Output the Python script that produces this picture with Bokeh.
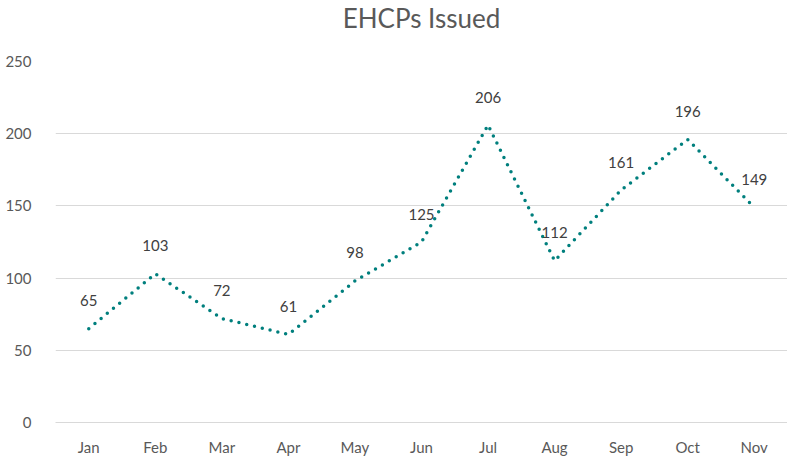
from bokeh.plotting import figure
from bokeh.models import ColumnDataSource, Range1d, FixedTicker, Title
from bokeh.core.properties import value
from bokeh.embed import file_html
from bokeh.resources import INLINE

months = ["Jan", "Feb", "Mar", "Apr", "May", "Jun", "Jul", "Aug", "Sep", "Oct", "Nov"]
ehcps = [65, 103, 72, 61, 98, 125, 206, 112, 161, 196, 149]
labels = [str(v) for v in ehcps]
y_ticks = [0, 50, 100, 150, 200, 250]
title_text = "EHCPs Issued"

src = ColumnDataSource(dict(m=months, v=ehcps, lab=labels))

FONT = "Lato"

p = figure(width=787, height=458, x_range=months, y_range=Range1d(0, 250),
           output_backend="svg", toolbar_location=None,
           min_border_left=55, min_border_right=0, min_border_top=0, min_border_bottom=36)
p.outline_line_color = None
p.background_fill_color = "white"
p.border_fill_color = "white"

p.title.text = title_text
p.title.align = "center"
p.title.vertical_align = "top"
p.title.text_font = FONT
p.title.text_font_size = "26px"
p.title.text_font_style = "normal"
p.title.text_color = "#595959"
p.title.standoff = 3

spacer = Title(text=" ", standoff=21, text_font_size="1px")
p.add_layout(spacer, "above")

p.line("m", "v", source=src, line_color="#007F7D", line_width=3.5,
       line_dash="0 8", line_cap="round")

p.text("m", "v", text="lab", source=src, text_align="center", text_baseline="middle",
       y_offset=-28, text_font=value(FONT), text_font_size="15px", text_color="#404040")

p.yaxis.ticker = FixedTicker(ticks=y_ticks)
p.yaxis.axis_line_color = None
p.yaxis.major_tick_line_color = None
p.yaxis.minor_tick_line_color = None
p.yaxis.major_label_text_font = FONT
p.yaxis.major_label_text_font_size = "15px"
p.yaxis.major_label_text_color = "#595959"
p.yaxis.major_label_standoff = 18

p.xaxis.axis_line_color = "#D9D9D9"
p.xaxis.major_tick_line_color = None
p.xaxis.minor_tick_line_color = None
p.xaxis.major_label_text_font = FONT
p.xaxis.major_label_text_font_size = "15px"
p.xaxis.major_label_text_color = "#595959"
p.xaxis.major_label_standoff = 9

p.xgrid.grid_line_color = None
p.ygrid.grid_line_color = "#D9D9D9"
p.ygrid.grid_line_width = 1

open("out.html", "w").write(file_html(p, INLINE))
